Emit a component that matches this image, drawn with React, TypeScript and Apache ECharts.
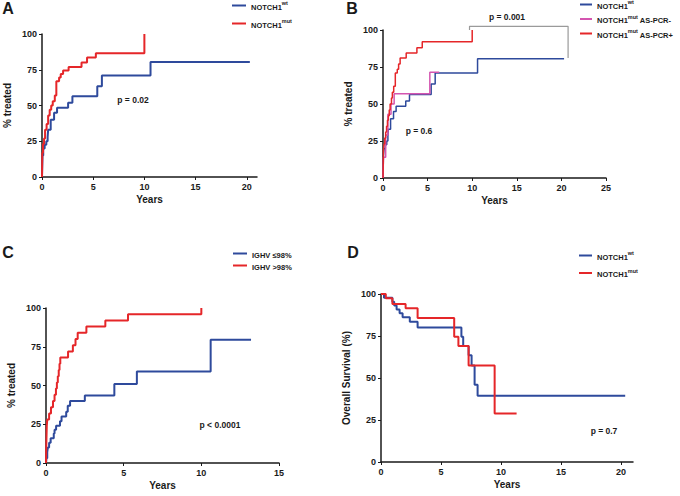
import React, { useEffect, useRef } from 'react';
import * as echarts from 'echarts';

// ---------- tick labels ----------
const yTicks = [0, 25, 50, 75, 100];
const xTicksA = [0, 5, 10, 15, 20];
const xTicksB = [0, 5, 10, 15, 20, 25];
const xTicksC = [0, 5, 10, 15];
const xTicksD = [0, 5, 10, 15, 20];

// ---------- Panel A & B : NOTCH1 wt (time to treatment) ----------
const wtYears = [0, 0.05, 0.12, 0.26, 0.42, 0.55, 0.6, 0.85, 1.18, 1.47, 2.55, 2.97, 5.4, 5.85, 10.6, 20.3];
const wtTreated = [0, 15, 20, 22.5, 25, 28, 33, 40, 45, 48.5, 52, 56.5, 63.5, 71, 80.5, 80.5];

// ---------- Panel A : NOTCH1 mut ----------
const mutYearsA = [0, 0.03, 0.1, 0.2, 0.3, 0.45, 0.6, 0.75, 0.9, 1.05, 1.25, 1.4, 1.67, 1.83, 2.06, 2.6, 3.86, 4.4, 5.26, 10.0];
const mutTreatedA = [0, 17, 23, 27, 33, 37, 43, 47, 50, 53, 57, 67, 69.5, 72, 74.5, 77, 80, 83.5, 86.5, 100];

// ---------- Panel B : NOTCH1 mut AS-PCR- ----------
const negYearsB = [0, 0.05, 0.3, 0.55, 0.9, 1.25, 5.25, 6.3];
const negTreatedB = [0, 14, 29, 43, 50, 57, 71.4, 71.4];

// ---------- Panel B : NOTCH1 mut AS-PCR+ ----------
const posYearsB = [0, 0.05, 0.12, 0.2, 0.3, 0.4, 0.5, 0.6, 0.7, 0.8, 0.95, 1.05, 1.2, 1.38, 1.6, 1.75, 1.92, 2.6, 3.8, 4.4, 10.0];
const posTreatedB = [0, 19, 23, 27, 31, 35, 39, 42, 46, 50, 54, 58, 62, 71, 73.5, 77, 81, 84.5, 88, 92, 100];

// bracket for p = 0.001
const bracketYears = [9.7, 9.7, 20.75, 20.75];
const bracketLevel = [100, 102.5, 102.5, 81];

// ---------- Panel C : IGHV ----------
const loYearsC = [0, 0.03, 0.08, 0.12, 0.2, 0.3, 0.5, 0.55, 0.65, 0.9, 1.0, 1.3, 1.4, 1.55, 2.5, 4.4, 5.85, 10.6, 13.2];
const loTreatedC = [0, 3, 7, 10, 13, 16, 19, 21.5, 24, 27, 30, 33, 37, 40, 43.5, 51, 59, 79.5, 79.5];
const hiYearsC = [0, 0.01, 0.03, 0.05, 0.08, 0.2, 0.32, 0.45, 0.55, 0.64, 0.7, 0.76, 0.82, 0.87, 0.92, 1.42, 1.73, 1.9, 2.04, 2.6, 3.82, 5.28, 10.0];
const hiTreatedC = [0, 8, 16, 24, 28, 32, 36, 40, 44, 48, 52, 56, 60, 64, 68, 72, 76, 80, 84, 88, 92, 96, 100];

// ---------- Panel D : overall survival ----------
const wtYearsD = [0, 0.25, 0.95, 1.1, 1.3, 1.55, 1.8, 2.4, 3.05, 6.7, 6.85, 7.3, 7.55, 7.8, 8.05, 20.35];
const wtSurvD = [100, 97.7, 95.4, 93.1, 90.8, 88.5, 86.2, 83.5, 80, 74.5, 69, 63.5, 57.5, 46, 39.5, 39.5];
const mutYearsD = [0, 0.4, 0.95, 2.05, 3.05, 6.1, 6.45, 7.3, 9.47, 11.3];
const mutSurvD = [100, 97.5, 94, 91.5, 85.7, 74.5, 69, 57.5, 28.8, 28.8];

const FONT = "'Liberation Sans', Arial, Helvetica, sans-serif";
const BLUE = '#2e4a9c';
const RED = '#e52629';
const PINK = '#d455b0';
const INK = '#1a1a1a';

const pairs = (t: number[], v: number[]) => t.map((x, i) => [x, v[i]]);

const legendText: Record<string, string> = {
  A_wt: '{n|NOTCH1}{s|wt}',
  A_mut: '{n|NOTCH1}{s|mut}',
  B_wt: '{n|NOTCH1}{s|wt}',
  B_neg: '{n|NOTCH1}{s|mut}{n| AS-PCR-}',
  B_pos: '{n|NOTCH1}{s|mut}{n| AS-PCR+}',
  C_lo: '{n|IGHV \u226498%}',
  C_hi: '{n|IGHV >98%}',
  D_wt: '{n|NOTCH1}{s|wt}',
  D_mut: '{n|NOTCH1}{s|mut}',
};

function xAxis(gridIndex: number, max: number, ticks: number[]) {
  return {
    type: 'value', gridIndex, min: 0, max, interval: 5,
    axisLine: { show: true, onZero: false, lineStyle: { color: INK, width: 1.5 } },
    axisTick: { show: true, length: 3, customValues: ticks, lineStyle: { color: INK, width: 1 } },
    axisLabel: { customValues: ticks, fontSize: 9, fontWeight: 'bold', color: INK, fontFamily: FONT, margin: 5 },
    splitLine: { show: false },
    name: 'Years', nameLocation: 'middle', nameGap: 17,
    nameTextStyle: { fontSize: 10, fontWeight: 'bold', color: INK, fontFamily: FONT },
  };
}
function yAxis(gridIndex: number, name: string) {
  return {
    type: 'value', gridIndex, min: 0, max: 100, interval: 25,
    axisLine: { show: true, onZero: false, lineStyle: { color: INK, width: 1.5 } },
    axisTick: { show: true, length: 3, customValues: yTicks, lineStyle: { color: INK, width: 1 } },
    axisLabel: { customValues: yTicks, fontSize: 9, fontWeight: 'bold', color: INK, fontFamily: FONT, margin: 5 },
    splitLine: { show: false },
    name, nameLocation: 'middle', nameGap: 30, nameRotate: 90,
    nameTextStyle: { fontSize: 10, fontWeight: 'bold', color: INK, fontFamily: FONT },
  };
}
function step(name: string, idx: number, data: number[][], color: string, width: number) {
  return {
    name, type: 'line', xAxisIndex: idx, yAxisIndex: idx, data, step: 'end',
    symbol: 'none', showSymbol: false, silent: true,
    lineStyle: { color, width }, itemStyle: { color },
  };
}
function legend(names: string[], left: number, top: number, itemWidth: number, itemGap: number) {
  return {
    data: names, left, top, orient: 'vertical', icon: 'rect', itemWidth, itemHeight: 2,
    itemGap, padding: 0, selectedMode: false,
    formatter: (n: string) => legendText[n] || n,
    textStyle: {
      color: INK, fontFamily: FONT, fontWeight: 'bold', fontSize: 7.5,
      rich: {
        n: { fontSize: 7.5, fontWeight: 'bold', fontFamily: FONT, color: INK, padding: [3, 0, 0, 0], verticalAlign: 'bottom' },
        s: { fontSize: 5.5, fontWeight: 'bold', fontFamily: FONT, color: INK, verticalAlign: 'top' },
      },
    },
  };
}
function txt(text: string, x: number, y: number, size: number) {
  return {
    type: 'text', x, y, silent: true,
    style: {
      text, fill: INK, fontSize: size, fontWeight: 'bold', fontFamily: FONT,
      align: 'center', verticalAlign: 'middle', textAlign: 'center', textVerticalAlign: 'middle',
    },
  };
}

export default function App() {
  const ref = useRef<HTMLDivElement>(null);
  useEffect(() => {
    if (!ref.current) return;
    const chart = echarts.init(ref.current, undefined, { renderer: 'svg' });
    const option: any = {
      animation: false,
      backgroundColor: '#ffffff',
      grid: [
        { left: 42, top: 34, width: 215, height: 143, outerBoundsMode: 'none' },
        { left: 383, top: 30, width: 223, height: 148, outerBoundsMode: 'none' },
        { left: 46, top: 308, width: 233, height: 155, outerBoundsMode: 'none' },
        { left: 381, top: 294, width: 252, height: 168, outerBoundsMode: 'none' },
      ],
      xAxis: [xAxis(0, 21, xTicksA), xAxis(1, 25, xTicksB), xAxis(2, 15, xTicksC), xAxis(3, 21, xTicksD)],
      yAxis: [yAxis(0, '% treated'), yAxis(1, '% treated'), yAxis(2, '% treated'), yAxis(3, 'Overall Survival (%)')],
      legend: [
        legend(['A_wt', 'A_mut'], 232, 0, 14, 7),
        legend(['B_wt', 'B_neg', 'B_pos'], 580, -1, 12, 3.5),
        legend(['C_lo', 'C_hi'], 233, 251, 14, 4),
        legend(['D_wt', 'D_mut'], 579, 250, 13, 6.5),
      ],
      series: [
        step('A_wt', 0, pairs(wtYears, wtTreated), BLUE, 2),
        step('A_mut', 0, pairs(mutYearsA, mutTreatedA), RED, 2),
        step('B_wt', 1, pairs(wtYears, wtTreated), BLUE, 1.5),
        step('B_neg', 1, pairs(negYearsB, negTreatedB), PINK, 1.5),
        step('B_pos', 1, pairs(posYearsB, posTreatedB), RED, 1.5),
        {
          type: 'line', xAxisIndex: 1, yAxisIndex: 1, data: pairs(bracketYears, bracketLevel),
          symbol: 'none', silent: true, clip: false, lineStyle: { color: '#9a9a9a', width: 1.2 },
        },
        step('C_lo', 2, pairs(loYearsC, loTreatedC), BLUE, 2),
        step('C_hi', 2, pairs(hiYearsC, hiTreatedC), RED, 2),
        step('D_wt', 3, pairs(wtYearsD, wtSurvD), BLUE, 2),
        step('D_mut', 3, pairs(mutYearsD, mutSurvD), RED, 2),
      ],
      graphic: [
        txt('A', 8, 8, 16),
        txt('B', 352, 8, 16),
        txt('C', 8, 252, 16),
        txt('D', 353, 252, 16),
        txt('p = 0.02', 133, 100, 8.5),
        txt('p = 0.001', 507, 17, 8.5),
        txt('p = 0.6', 419, 131, 8.5),
        txt('p < 0.0001', 220, 425, 8.5),
        txt('p = 0.7', 604, 431, 8.5),
      ],
    };
    chart.setOption(option);
    return () => chart.dispose();
  }, []);
  return (
    <div
      ref={ref}
      style={{ position: 'absolute', left: 0, top: 0, width: 680, height: 496, background: '#fff' }}
    />
  );
}
